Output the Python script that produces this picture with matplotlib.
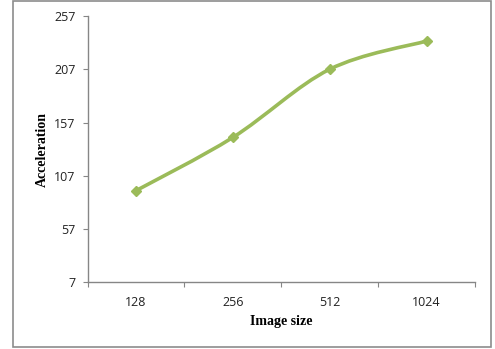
import numpy as np
import matplotlib
matplotlib.use('Agg')
import matplotlib.pyplot as plt
from matplotlib.path import Path
from matplotlib.patches import PathPatch, Rectangle


sizes = ['128', '256', '512', '1024']
accel = [93, 143, 207, 233.5]
yticks = [7, 57, 107, 157, 207, 257]

green = '#9bbb59'
gray = '#868686'


def smooth_path(xs, ys, t=1.0 / 6):
    # bezier segments through every point, like a spreadsheet "smoothed line"
    pts = list(zip(xs, ys))
    verts = [pts[0]]
    codes = [Path.MOVETO]
    for i in range(len(pts) - 1):
        p0 = pts[i - 1] if i > 0 else pts[i]
        p1 = pts[i]
        p2 = pts[i + 1]
        p3 = pts[i + 2] if i + 2 < len(pts) else pts[i + 1]
        c1 = (p1[0] + (p2[0] - p0[0]) * t, p1[1] + (p2[1] - p0[1]) * t)
        c2 = (p2[0] - (p3[0] - p1[0]) * t, p2[1] - (p3[1] - p1[1]) * t)
        verts += [c1, c2, p2]
        codes += [Path.CURVE4] * 3
    return Path(verts, codes)


fig = plt.figure(figsize=(4.95, 3.49), dpi=100)
fig.patches.append(Rectangle((13 / 495, 2 / 349), 478 / 495, 346 / 349,
                             transform=fig.transFigure, fill=False,
                             edgecolor='#8c8c8c', linewidth=1.2))

ax = fig.add_axes([87.5 / 495, 1 - 282.3 / 349, 387.5 / 495, 266.3 / 349])

x = np.arange(len(sizes))
ax.add_patch(PathPatch(smooth_path(x, accel), fill=False, edgecolor=green,
                       linewidth=2.6, capstyle='round', joinstyle='round'))
ax.plot(x, accel, linestyle='none', marker='D', markersize=5.5, color=green)

ax.set_xlim(-0.5, len(sizes) - 0.5)
ax.set_ylim(7, 257)

ax.set_yticks(yticks)
ax.set_xticks(np.arange(len(sizes) + 1) - 0.5)
ax.set_xticklabels([])
ax.set_xticks(x, minor=True)
ax.set_xticklabels(sizes, minor=True)

for side in ['top', 'right']:
    ax.spines[side].set_visible(False)
for side in ['left', 'bottom']:
    ax.spines[side].set_color(gray)
    ax.spines[side].set_linewidth(1.0)

ax.tick_params(axis='y', direction='out', length=3.6, width=0.8, color=gray,
               pad=5, labelsize=9, labelcolor='#222222')
ax.tick_params(axis='x', which='major', direction='out', length=3.4,
               width=0.8, color=gray)
ax.tick_params(axis='x', which='minor', length=0, pad=10, labelsize=9,
               labelcolor='#222222')
for lab in ax.get_yticklabels() + ax.get_xticklabels(minor=True):
    lab.set_fontfamily('Open Sans')

ax.set_xlabel('Image size', fontfamily='Liberation Serif', fontweight='bold',
              fontsize=10, labelpad=4)
ax.set_ylabel('Acceleration', fontfamily='Liberation Serif', fontweight='bold',
              fontsize=10, labelpad=4)

fig.savefig('out.png', dpi=100)
